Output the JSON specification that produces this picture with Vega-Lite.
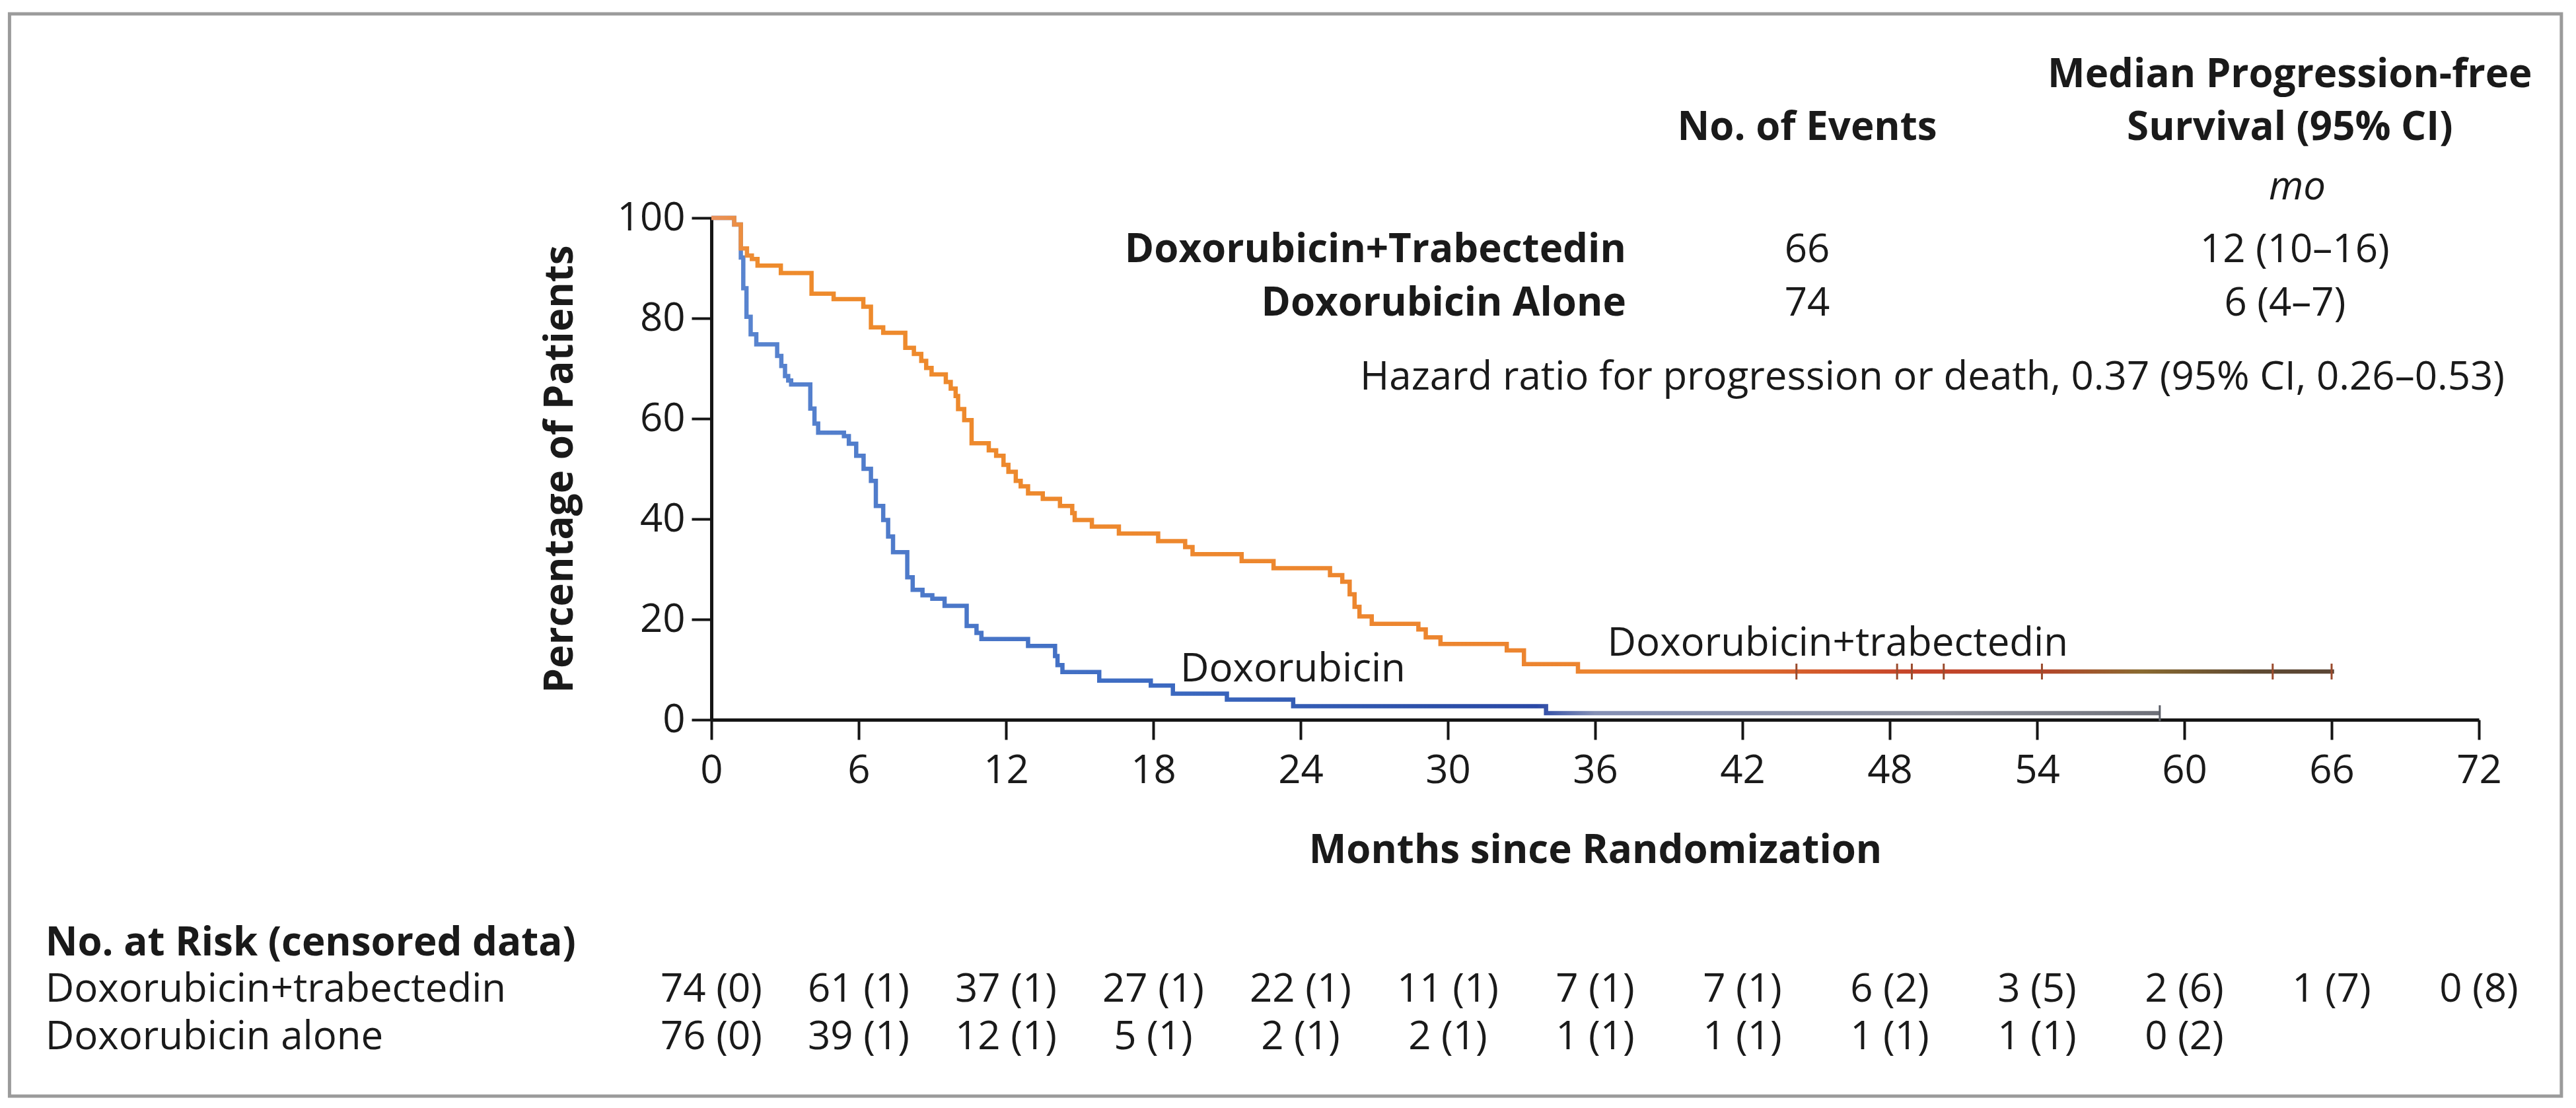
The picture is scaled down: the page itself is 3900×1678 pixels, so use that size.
{
  "$schema": "https://vega.github.io/schema/vega-lite/v6.json",
  "width": 2676,
  "height": 760,
  "autosize": {"type": "none"},
  "padding": {"left": 1077, "top": 330, "right": 147, "bottom": 588},
  "background": "white",
  "config": {
    "view": {"stroke": null},
    "font": "Open Sans",
    "axis": {
      "grid": false,
      "domainColor": "#151515",
      "domainWidth": 5,
      "tickColor": "#151515",
      "tickWidth": 4,
      "tickSize": 30,
      "labelFont": "Open Sans",
      "labelFontSize": 60,
      "labelColor": "#1a1a1a",
      "labelFlush": false,
      "labelOverlap": false,
      "titleFont": "Open Sans",
      "titleFontSize": 60,
      "titleFontWeight": "bold",
      "titleColor": "#1a1a1a"
    },
    "text": {"font": "Open Sans", "fontSize": 60, "color": "#1a1a1a", "baseline": "alphabetic"}
  },
  "datasets": {
    "curves": [
      {"arm": "Doxorubicin", "month": 0, "pct": 100},
      {"arm": "Doxorubicin", "month": 0.93, "pct": 98.7},
      {"arm": "Doxorubicin", "month": 1.2, "pct": 92.1},
      {"arm": "Doxorubicin", "month": 1.3, "pct": 86},
      {"arm": "Doxorubicin", "month": 1.43, "pct": 80.3},
      {"arm": "Doxorubicin", "month": 1.6, "pct": 76.8},
      {"arm": "Doxorubicin", "month": 1.83, "pct": 74.8},
      {"arm": "Doxorubicin", "month": 2.68, "pct": 72.5},
      {"arm": "Doxorubicin", "month": 2.85, "pct": 70.5},
      {"arm": "Doxorubicin", "month": 3.0, "pct": 68.5},
      {"arm": "Doxorubicin", "month": 3.13, "pct": 67.6},
      {"arm": "Doxorubicin", "month": 3.25, "pct": 66.8},
      {"arm": "Doxorubicin", "month": 4.03, "pct": 62.0},
      {"arm": "Doxorubicin", "month": 4.2, "pct": 59.0},
      {"arm": "Doxorubicin", "month": 4.35, "pct": 57.2},
      {"arm": "Doxorubicin", "month": 5.4, "pct": 56.5},
      {"arm": "Doxorubicin", "month": 5.6, "pct": 55.0},
      {"arm": "Doxorubicin", "month": 5.9, "pct": 52.6},
      {"arm": "Doxorubicin", "month": 6.2, "pct": 50.0},
      {"arm": "Doxorubicin", "month": 6.5, "pct": 47.6},
      {"arm": "Doxorubicin", "month": 6.7, "pct": 42.6},
      {"arm": "Doxorubicin", "month": 7.0, "pct": 39.8},
      {"arm": "Doxorubicin", "month": 7.2, "pct": 36.5},
      {"arm": "Doxorubicin", "month": 7.4, "pct": 33.4},
      {"arm": "Doxorubicin", "month": 7.98, "pct": 28.4},
      {"arm": "Doxorubicin", "month": 8.2, "pct": 25.9},
      {"arm": "Doxorubicin", "month": 8.6, "pct": 24.8},
      {"arm": "Doxorubicin", "month": 9.0, "pct": 24.1},
      {"arm": "Doxorubicin", "month": 9.5, "pct": 22.7},
      {"arm": "Doxorubicin", "month": 10.4, "pct": 18.7},
      {"arm": "Doxorubicin", "month": 10.8, "pct": 17.3},
      {"arm": "Doxorubicin", "month": 11.0, "pct": 16.1},
      {"arm": "Doxorubicin", "month": 12.9, "pct": 14.7},
      {"arm": "Doxorubicin", "month": 14.0, "pct": 12.7},
      {"arm": "Doxorubicin", "month": 14.1, "pct": 10.9},
      {"arm": "Doxorubicin", "month": 14.3, "pct": 9.5},
      {"arm": "Doxorubicin", "month": 15.8, "pct": 7.8},
      {"arm": "Doxorubicin", "month": 17.9, "pct": 6.8},
      {"arm": "Doxorubicin", "month": 18.8, "pct": 5.2},
      {"arm": "Doxorubicin", "month": 21.0, "pct": 4.0},
      {"arm": "Doxorubicin", "month": 23.7, "pct": 2.7},
      {"arm": "Doxorubicin", "month": 34.0, "pct": 1.3},
      {"arm": "Doxorubicin", "month": 59.0, "pct": 1.3},
      {"arm": "Doxorubicin+trabectedin", "month": 0, "pct": 100},
      {"arm": "Doxorubicin+trabectedin", "month": 0.93, "pct": 98.7},
      {"arm": "Doxorubicin+trabectedin", "month": 1.2, "pct": 93.9},
      {"arm": "Doxorubicin+trabectedin", "month": 1.45, "pct": 92.5},
      {"arm": "Doxorubicin+trabectedin", "month": 1.65, "pct": 91.8},
      {"arm": "Doxorubicin+trabectedin", "month": 1.88, "pct": 90.5},
      {"arm": "Doxorubicin+trabectedin", "month": 2.83, "pct": 89.0},
      {"arm": "Doxorubicin+trabectedin", "month": 4.08, "pct": 84.9},
      {"arm": "Doxorubicin+trabectedin", "month": 4.98, "pct": 83.8},
      {"arm": "Doxorubicin+trabectedin", "month": 6.19, "pct": 82.3},
      {"arm": "Doxorubicin+trabectedin", "month": 6.5, "pct": 78.2},
      {"arm": "Doxorubicin+trabectedin", "month": 7.0, "pct": 77.1},
      {"arm": "Doxorubicin+trabectedin", "month": 7.9, "pct": 74.1},
      {"arm": "Doxorubicin+trabectedin", "month": 8.25, "pct": 72.9},
      {"arm": "Doxorubicin+trabectedin", "month": 8.55, "pct": 71.5},
      {"arm": "Doxorubicin+trabectedin", "month": 8.75, "pct": 70.1},
      {"arm": "Doxorubicin+trabectedin", "month": 8.97, "pct": 68.8},
      {"arm": "Doxorubicin+trabectedin", "month": 9.55, "pct": 67.3},
      {"arm": "Doxorubicin+trabectedin", "month": 9.75, "pct": 66.0},
      {"arm": "Doxorubicin+trabectedin", "month": 9.95, "pct": 64.5},
      {"arm": "Doxorubicin+trabectedin", "month": 10.05, "pct": 61.9},
      {"arm": "Doxorubicin+trabectedin", "month": 10.3, "pct": 59.7},
      {"arm": "Doxorubicin+trabectedin", "month": 10.6, "pct": 55.1},
      {"arm": "Doxorubicin+trabectedin", "month": 11.3, "pct": 53.7},
      {"arm": "Doxorubicin+trabectedin", "month": 11.6, "pct": 52.6},
      {"arm": "Doxorubicin+trabectedin", "month": 11.9, "pct": 50.8},
      {"arm": "Doxorubicin+trabectedin", "month": 12.1, "pct": 49.4},
      {"arm": "Doxorubicin+trabectedin", "month": 12.4, "pct": 47.6},
      {"arm": "Doxorubicin+trabectedin", "month": 12.6, "pct": 46.5},
      {"arm": "Doxorubicin+trabectedin", "month": 12.9, "pct": 45.1},
      {"arm": "Doxorubicin+trabectedin", "month": 13.5, "pct": 44.0},
      {"arm": "Doxorubicin+trabectedin", "month": 14.2, "pct": 42.6},
      {"arm": "Doxorubicin+trabectedin", "month": 14.7, "pct": 41.2},
      {"arm": "Doxorubicin+trabectedin", "month": 14.8, "pct": 39.8},
      {"arm": "Doxorubicin+trabectedin", "month": 15.5, "pct": 38.5},
      {"arm": "Doxorubicin+trabectedin", "month": 16.6, "pct": 37.1},
      {"arm": "Doxorubicin+trabectedin", "month": 18.2, "pct": 35.6},
      {"arm": "Doxorubicin+trabectedin", "month": 19.3, "pct": 34.4},
      {"arm": "Doxorubicin+trabectedin", "month": 19.6, "pct": 33.0},
      {"arm": "Doxorubicin+trabectedin", "month": 21.6, "pct": 31.6},
      {"arm": "Doxorubicin+trabectedin", "month": 22.9, "pct": 30.2},
      {"arm": "Doxorubicin+trabectedin", "month": 25.2, "pct": 28.8},
      {"arm": "Doxorubicin+trabectedin", "month": 25.7, "pct": 27.5},
      {"arm": "Doxorubicin+trabectedin", "month": 26.0, "pct": 25.0},
      {"arm": "Doxorubicin+trabectedin", "month": 26.2, "pct": 22.5},
      {"arm": "Doxorubicin+trabectedin", "month": 26.4, "pct": 20.6},
      {"arm": "Doxorubicin+trabectedin", "month": 26.9, "pct": 19.1},
      {"arm": "Doxorubicin+trabectedin", "month": 28.8, "pct": 18.0},
      {"arm": "Doxorubicin+trabectedin", "month": 29.1, "pct": 16.4},
      {"arm": "Doxorubicin+trabectedin", "month": 29.7, "pct": 15.1},
      {"arm": "Doxorubicin+trabectedin", "month": 32.4, "pct": 13.8},
      {"arm": "Doxorubicin+trabectedin", "month": 33.1, "pct": 11.1},
      {"arm": "Doxorubicin+trabectedin", "month": 35.3, "pct": 9.6},
      {"arm": "Doxorubicin+trabectedin", "month": 66.1, "pct": 9.6}
    ],
    "censored": [
      {"arm": "Doxorubicin+trabectedin", "month": 44.2, "pct": 9.6},
      {"arm": "Doxorubicin+trabectedin", "month": 48.3, "pct": 9.6},
      {"arm": "Doxorubicin+trabectedin", "month": 48.9, "pct": 9.6},
      {"arm": "Doxorubicin+trabectedin", "month": 50.2, "pct": 9.6},
      {"arm": "Doxorubicin+trabectedin", "month": 54.2, "pct": 9.6},
      {"arm": "Doxorubicin+trabectedin", "month": 63.6, "pct": 9.6},
      {"arm": "Doxorubicin+trabectedin", "month": 66.0, "pct": 9.6},
      {"arm": "Doxorubicin", "month": 59.0, "pct": 1.3}
    ],
    "atrisk": [
      {"arm": "Doxorubicin+trabectedin", "month": 0, "n": "74 (0)"},
      {"arm": "Doxorubicin+trabectedin", "month": 6, "n": "61 (1)"},
      {"arm": "Doxorubicin+trabectedin", "month": 12, "n": "37 (1)"},
      {"arm": "Doxorubicin+trabectedin", "month": 18, "n": "27 (1)"},
      {"arm": "Doxorubicin+trabectedin", "month": 24, "n": "22 (1)"},
      {"arm": "Doxorubicin+trabectedin", "month": 30, "n": "11 (1)"},
      {"arm": "Doxorubicin+trabectedin", "month": 36, "n": "7 (1)"},
      {"arm": "Doxorubicin+trabectedin", "month": 42, "n": "7 (1)"},
      {"arm": "Doxorubicin+trabectedin", "month": 48, "n": "6 (2)"},
      {"arm": "Doxorubicin+trabectedin", "month": 54, "n": "3 (5)"},
      {"arm": "Doxorubicin+trabectedin", "month": 60, "n": "2 (6)"},
      {"arm": "Doxorubicin+trabectedin", "month": 66, "n": "1 (7)"},
      {"arm": "Doxorubicin+trabectedin", "month": 72, "n": "0 (8)"},
      {"arm": "Doxorubicin alone", "month": 0, "n": "76 (0)"},
      {"arm": "Doxorubicin alone", "month": 6, "n": "39 (1)"},
      {"arm": "Doxorubicin alone", "month": 12, "n": "12 (1)"},
      {"arm": "Doxorubicin alone", "month": 18, "n": "5 (1)"},
      {"arm": "Doxorubicin alone", "month": 24, "n": "2 (1)"},
      {"arm": "Doxorubicin alone", "month": 30, "n": "2 (1)"},
      {"arm": "Doxorubicin alone", "month": 36, "n": "1 (1)"},
      {"arm": "Doxorubicin alone", "month": 42, "n": "1 (1)"},
      {"arm": "Doxorubicin alone", "month": 48, "n": "1 (1)"},
      {"arm": "Doxorubicin alone", "month": 54, "n": "1 (1)"},
      {"arm": "Doxorubicin alone", "month": 60, "n": "0 (2)"}
    ]
  },
  "layer": [
    {
      "data": {"name": "curves"},
      "transform": [{"filter": "datum.arm === 'Doxorubicin'"}],
      "mark": {
        "type": "line",
        "interpolate": "step-after",
        "strokeWidth": 6.5,
        "stroke": {
          "gradient": "linear", "x1": 0, "y1": 0, "x2": 1, "y2": 0,
          "stops": [
            {"offset": 0, "color": "#5b86d0"},
            {"offset": 0.3, "color": "#3d6bc2"},
            {"offset": 0.5, "color": "#2c4fa8"},
            {"offset": 0.57, "color": "#2a48a6"},
            {"offset": 0.61, "color": "#8590b5"},
            {"offset": 0.85, "color": "#8e919c"},
            {"offset": 1, "color": "#6e7078"}
          ]
        }
      },
      "encoding": {
        "x": {
          "field": "month", "type": "quantitative",
          "scale": {"domain": [0, 72], "nice": false, "zero": false},
          "axis": {"values": [0, 6, 12, 18, 24, 30, 36, 42, 48, 54, 60, 66, 72], "title": "Months since Randomization", "labelPadding": 18, "titlePadding": 62}
        },
        "y": {
          "field": "pct", "type": "quantitative",
          "scale": {"domain": [0, 100], "nice": false},
          "axis": {"values": [0, 20, 40, 60, 80, 100], "title": "Percentage of Patients", "labelPadding": 10, "titlePadding": 55}
        }
      }
    },
    {
      "data": {"name": "curves"},
      "transform": [{"filter": "datum.arm === 'Doxorubicin+trabectedin'"}],
      "mark": {
        "type": "line",
        "interpolate": "step-after",
        "strokeWidth": 6.5,
        "stroke": {
          "gradient": "linear", "x1": 0, "y1": 0, "x2": 1, "y2": 0,
          "stops": [
            {"offset": 0, "color": "#e9925e"},
            {"offset": 0.03, "color": "#ee8b2c"},
            {"offset": 0.55, "color": "#ec8430"},
            {"offset": 0.64, "color": "#dd6a2c"},
            {"offset": 0.74, "color": "#c6442a"},
            {"offset": 0.82, "color": "#b5452a"},
            {"offset": 0.88, "color": "#8a6a30"},
            {"offset": 0.95, "color": "#5e4a32"},
            {"offset": 1, "color": "#5a4535"}
          ]
        }
      },
      "encoding": {
        "x": {"field": "month", "type": "quantitative"},
        "y": {"field": "pct", "type": "quantitative"}
      }
    },
    {
      "data": {"name": "censored"},
      "mark": {"type": "point", "shape": "M0,-1L0,1", "size": 576, "filled": false, "strokeWidth": 3, "opacity": 1},
      "encoding": {
        "x": {"field": "month", "type": "quantitative"},
        "y": {"field": "pct", "type": "quantitative"},
        "color": {"field": "arm", "type": "nominal", "scale": {"domain": ["Doxorubicin+trabectedin", "Doxorubicin"], "range": ["#9a4a2c", "#5a5d66"]}, "legend": null}
      }
    },
    {
      "data": {"values": [{"t": "Doxorubicin+trabectedin"}]},
      "mark": {"type": "text", "align": "left"},
      "encoding": {"x": {"datum": 36.5}, "y": {"datum": 12.8}, "text": {"field": "t"}}
    },
    {
      "data": {"values": [{"t": "Doxorubicin"}]},
      "mark": {"type": "text", "align": "left"},
      "encoding": {"x": {"datum": 19.1}, "y": {"datum": 7.6}, "text": {"field": "t"}}
    },
    {
      "data": {"values": [{"t": "Median Progression-free"}]},
      "mark": {"type": "text", "align": "center", "fontWeight": "bold"},
      "encoding": {"x": {"datum": 64.3}, "y": {"datum": 126.1}, "text": {"field": "t"}}
    },
    {
      "data": {"values": [{"t": "Survival (95% CI)"}]},
      "mark": {"type": "text", "align": "center", "fontWeight": "bold"},
      "encoding": {"x": {"datum": 64.3}, "y": {"datum": 115.5}, "text": {"field": "t"}}
    },
    {
      "data": {"values": [{"t": "No. of Events"}]},
      "mark": {"type": "text", "align": "center", "fontWeight": "bold"},
      "encoding": {"x": {"datum": 44.64}, "y": {"datum": 115.5}, "text": {"field": "t"}}
    },
    {
      "data": {"values": [{"t": "mo"}]},
      "mark": {"type": "text", "align": "center", "fontStyle": "italic"},
      "encoding": {"x": {"datum": 64.6}, "y": {"datum": 103.7}, "text": {"field": "t"}}
    },
    {
      "data": {"values": [{"t": "Doxorubicin+Trabectedin"}]},
      "mark": {"type": "text", "align": "right", "fontWeight": "bold"},
      "encoding": {"x": {"datum": 37.26}, "y": {"datum": 91.2}, "text": {"field": "t"}}
    },
    {
      "data": {"values": [{"t": "Doxorubicin Alone"}]},
      "mark": {"type": "text", "align": "right", "fontWeight": "bold"},
      "encoding": {"x": {"datum": 37.26}, "y": {"datum": 80.5}, "text": {"field": "t"}}
    },
    {
      "data": {"values": [{"t": "66"}]},
      "mark": {"type": "text", "align": "center"},
      "encoding": {"x": {"datum": 44.64}, "y": {"datum": 91.2}, "text": {"field": "t"}}
    },
    {
      "data": {"values": [{"t": "74"}]},
      "mark": {"type": "text", "align": "center"},
      "encoding": {"x": {"datum": 44.64}, "y": {"datum": 80.5}, "text": {"field": "t"}}
    },
    {
      "data": {"values": [{"t": "12 (10–16)"}]},
      "mark": {"type": "text", "align": "center"},
      "encoding": {"x": {"datum": 64.5}, "y": {"datum": 91.2}, "text": {"field": "t"}}
    },
    {
      "data": {"values": [{"t": "6 (4–7)"}]},
      "mark": {"type": "text", "align": "center"},
      "encoding": {"x": {"datum": 64.1}, "y": {"datum": 80.5}, "text": {"field": "t"}}
    },
    {
      "data": {"values": [{"t": "Hazard ratio for progression or death, 0.37 (95% CI, 0.26–0.53)"}]},
      "mark": {"type": "text", "align": "right"},
      "encoding": {"x": {"datum": 73.05}, "y": {"datum": 65.8}, "text": {"field": "t"}}
    },
    {
      "data": {"values": [{"t": "No. at Risk (censored data)"}]},
      "mark": {"type": "text", "align": "left", "fontWeight": "bold"},
      "encoding": {"x": {"datum": -27.13}, "y": {"datum": -47}, "text": {"field": "t"}}
    },
    {
      "data": {"values": [{"t": "Doxorubicin+trabectedin"}]},
      "mark": {"type": "text", "align": "left"},
      "encoding": {"x": {"datum": -27.13}, "y": {"datum": -56.2}, "text": {"field": "t"}}
    },
    {
      "data": {"values": [{"t": "Doxorubicin alone"}]},
      "mark": {"type": "text", "align": "left"},
      "encoding": {"x": {"datum": -27.13}, "y": {"datum": -65.7}, "text": {"field": "t"}}
    },
    {
      "data": {"name": "atrisk"},
      "transform": [{"filter": "datum.arm === 'Doxorubicin+trabectedin'"}],
      "mark": {"type": "text", "align": "center"},
      "encoding": {"x": {"field": "month", "type": "quantitative"}, "y": {"datum": -56.2}, "text": {"field": "n"}}
    },
    {
      "data": {"name": "atrisk"},
      "transform": [{"filter": "datum.arm === 'Doxorubicin alone'"}],
      "mark": {"type": "text", "align": "center"},
      "encoding": {"x": {"field": "month", "type": "quantitative"}, "y": {"datum": -65.7}, "text": {"field": "n"}}
    },
    {
      "data": {"values": [{}]},
      "mark": {"type": "rect", "filled": false, "stroke": "#9b9b9b", "strokeWidth": 5},
      "encoding": {"x": {"datum": -28.59}, "x2": {"datum": 75.36}, "y": {"datum": 140.66}, "y2": {"datum": -75.0}}
    }
  ]
}
